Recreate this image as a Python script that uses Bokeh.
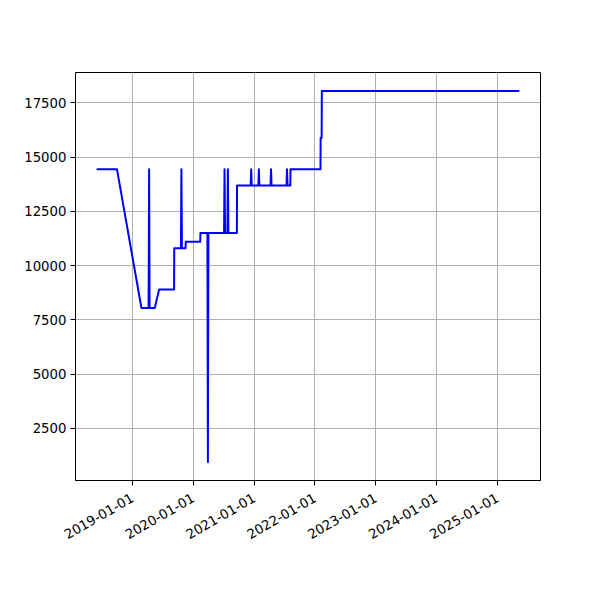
import math
from datetime import datetime
from bokeh.plotting import figure
from bokeh.models import FixedTicker, DatetimeTickFormatter, Range1d, ColumnDataSource
from bokeh.embed import file_html
from bokeh.resources import INLINE

dates = [
    "2018-06-01", "2018-10-01", "2019-02-25", "2019-04-09", "2019-04-12", "2019-04-15",
    "2019-05-16", "2019-06-11", "2019-09-09", "2019-09-10", "2019-10-20", "2019-10-23",
    "2019-10-26", "2019-11-17", "2019-11-18", "2020-02-13", "2020-02-14", "2020-03-27",
    "2020-03-30", "2020-04-02", "2020-07-05", "2020-07-08", "2020-07-11", "2020-07-25",
    "2020-07-28", "2020-07-31", "2020-09-20", "2020-09-21", "2020-12-12", "2020-12-15",
    "2020-12-18", "2021-01-27", "2021-01-30", "2021-02-02", "2021-04-10", "2021-04-13",
    "2021-04-16", "2021-07-15", "2021-07-18", "2021-07-21", "2021-08-07", "2021-08-08",
    "2022-02-04", "2022-02-05", "2022-02-11", "2022-02-12", "2025-05-13",
]
values = [
    14450, 14450, 8050, 8050, 14450, 8050,
    8050, 8900, 8900, 10800, 10800, 14450,
    10800, 10800, 11100, 11100, 11500, 11500,
    950, 11500, 11500, 14450, 11500, 11500,
    14450, 11500, 11500, 13700, 13700, 14450,
    13700, 13700, 14450, 13700, 13700, 14450,
    13700, 13700, 14450, 13700, 13700, 14450,
    14450, 15900, 15900, 18050, 18050,
]
tick_dates = ["2019-01-01", "2020-01-01", "2021-01-01", "2022-01-01",
              "2023-01-01", "2024-01-01", "2025-01-01"]
y_ticks = [2500, 5000, 7500, 10000, 12500, 15000, 17500]

def to_ms(s):
    return (datetime.strptime(s, "%Y-%m-%d") - datetime(1970, 1, 1)).total_seconds() * 1000.0

xs = [to_ms(d) for d in dates]
src = ColumnDataSource(dict(x=xs, y=values))

xmin, xmax = min(xs), max(xs)
ymin, ymax = min(values), max(values)
xpad = (xmax - xmin) * 0.05
ypad = (ymax - ymin) * 0.05

p = figure(x_axis_type="datetime", output_backend="svg", toolbar_location=None,
           frame_width=465, frame_height=408,
           min_border_left=75, min_border_right=52, min_border_top=72, min_border_bottom=112,
           x_range=Range1d(xmin - xpad, xmax + xpad), y_range=Range1d(ymin - ypad, ymax + ypad),
           background_fill_color="white", border_fill_color="white")

p.line("x", "y", source=src, line_color="#0000ff", line_width=2, line_join="round")

p.xaxis.ticker = FixedTicker(ticks=[to_ms(d) for d in tick_dates])
fmt = "%Y-%m-%d"
p.xaxis.formatter = DatetimeTickFormatter(years=fmt, months=fmt, days=fmt, hours=fmt,
                                          minutes=fmt, seconds=fmt, milliseconds=fmt,
                                          microseconds=fmt, minsec=fmt, hourmin=fmt)
p.xaxis.major_label_orientation = math.pi / 6
p.yaxis.ticker = FixedTicker(ticks=y_ticks)

for ax in (p.xaxis, p.yaxis):
    ax.major_label_text_font = "DejaVu Sans"
    ax.major_label_text_font_size = "13.3px"
    ax.major_label_text_color = "black"
    ax.axis_line_color = "black"
    ax.major_tick_line_color = "black"
    ax.major_tick_out = 5
    ax.major_tick_in = 0
    ax.minor_tick_line_color = None
p.xaxis.major_label_standoff = 11
p.yaxis.major_label_standoff = 4

p.outline_line_color = "black"
p.outline_line_width = 1
p.grid.grid_line_color = "#b0b0b0"
p.grid.grid_line_width = 1
p.grid.grid_line_alpha = 1.0

open("out.html", "w").write(file_html(p, INLINE))
